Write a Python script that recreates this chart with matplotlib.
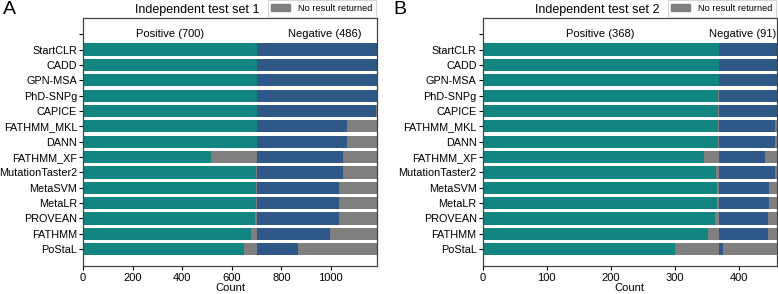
import matplotlib
matplotlib.use("Agg")
import matplotlib.pyplot as plt
from matplotlib.patches import Patch

plt.rcParams['font.family'] = ['Liberation Sans', 'DejaVu Sans']

methods = ['StartCLR', 'CADD', 'GPN-MSA', 'PhD-SNPg', 'CAPICE', 'FATHMM_MKL', 'DANN',
           'FATHMM_XF', 'MutationTaster2', 'MetaSVM', 'MetaLR', 'PROVEAN', 'FATHMM', 'PoStaL']

n_pos_A, n_neg_A = 700, 486
pos_A = [700, 700, 700, 700, 700, 700, 700, 516, 696, 699, 699, 695, 678, 651]
neg_A = [486, 486, 486, 484, 481, 365, 365, 349, 349, 334, 334, 332, 298, 169]

n_pos_B, n_neg_B = 368, 91
pos_B = [368, 368, 368, 367, 367, 367, 367, 346, 364, 365, 365, 363, 351, 300]
neg_B = [91, 91, 91, 91, 91, 88, 88, 72, 88, 78, 78, 77, 77, 7]

titles = ['Independent test set 1', 'Independent test set 2']
letters = ['A', 'B']
xticks_list = [[0, 200, 400, 600, 800, 1000], [0, 100, 200, 300, 400]]
neg_text_frac = [0.822, 0.882]

TEAL = '#138580'
BLUE = '#2f5889'
GRAY = '#7f7f7f'

fig = plt.figure(figsize=(7.78, 2.94), dpi=100)
axA = fig.add_axes([83/778, 1-266/294, 294/778, (266-18)/294])
axB = fig.add_axes([482.5/778, 1-266/294, 294.5/778, (266-18)/294])

panels = [(axA, n_pos_A, n_neg_A, pos_A, neg_A), (axB, n_pos_B, n_neg_B, pos_B, neg_B)]
ypos = list(range(1, len(methods) + 1))
h = 0.8
for i, (ax, npos, nneg, pos, neg) in enumerate(panels):
    total = npos + nneg
    ax.barh(ypos, pos, height=h, color=TEAL, linewidth=0)
    ax.barh(ypos, [npos - p for p in pos], left=pos, height=h, color=GRAY, linewidth=0)
    ax.barh(ypos, neg, left=npos, height=h, color=BLUE, linewidth=0)
    ax.barh(ypos, [nneg - n for n in neg], left=[npos + n for n in neg], height=h,
            color=GRAY, linewidth=0)
    ax.set_xlim(0, total)
    ax.set_ylim(15.1, -1.06)
    ax.set_yticks([0] + ypos)
    ax.set_yticklabels([''] + methods, fontsize=7.8)
    ax.set_xticks(xticks_list[i])
    ax.tick_params(axis='x', labelsize=8, length=3, pad=2)
    ax.tick_params(axis='y', length=3, pad=1.2)
    ax.set_xlabel('Count', fontsize=8, labelpad=0)
    for sp in ax.spines.values():
        sp.set_color('#444444')
        sp.set_linewidth(0.9)
    ax.text(npos / 2, 0, f'Positive ({npos})', ha='center', va='center', fontsize=8)
    ax.text(neg_text_frac[i] * total, 0, f'Negative ({nneg})', ha='center', va='center', fontsize=8)
    ax.text(0.389, 1.0 + 8.5 / 248, titles[i], transform=ax.transAxes, ha='center',
            va='center', fontsize=9)
    leg = ax.legend(handles=[Patch(color=GRAY, label='No result returned')], loc='lower right',
                    bbox_to_anchor=(1.0, 1.0), fontsize=6.7, frameon=True, borderaxespad=0.15,
                    fancybox=False, handlelength=2.0, borderpad=0.4, handleheight=0.8)
    leg.get_frame().set_edgecolor('#cccccc')
    leg.get_frame().set_linewidth(0.8)

fig.text(3/778, 1 - 1/294, 'A', fontsize=14, ha='left', va='top')
fig.text(393/778, 1 - 1/294, 'B', fontsize=14, ha='left', va='top')

fig.savefig('out.png', dpi=100)
